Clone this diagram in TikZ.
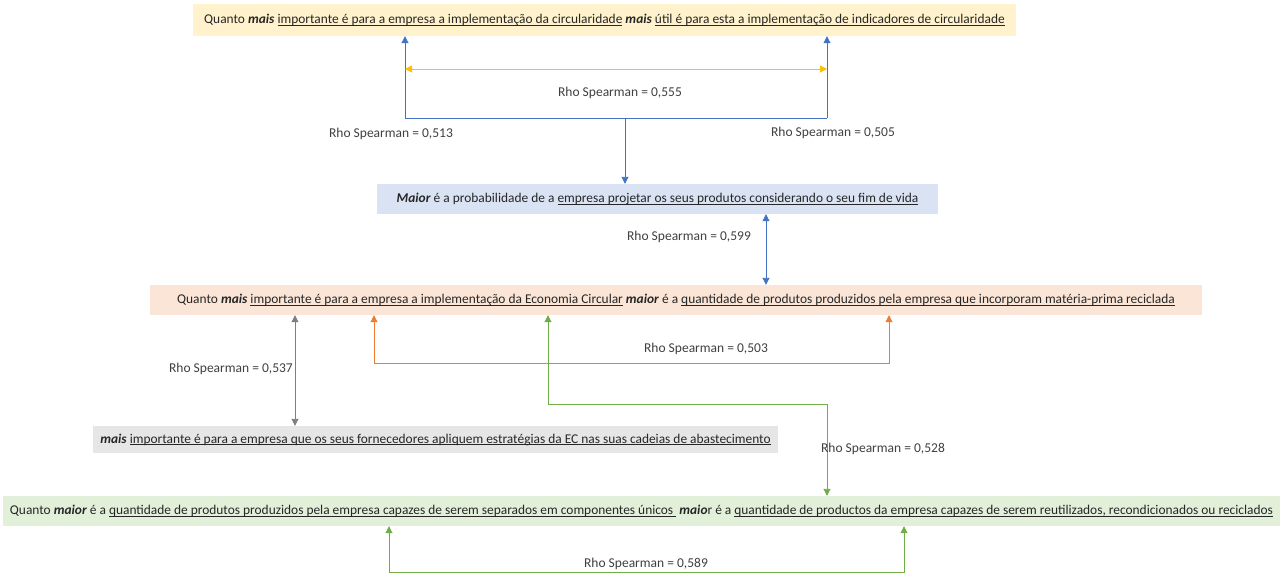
\documentclass[tikz,border=0pt]{standalone}
\usepackage{fontspec}
\setmainfont{Carlito}
\usetikzlibrary{arrows.meta}
\definecolor{txt}{HTML}{262626}
\definecolor{lbltxt}{HTML}{404040}
\definecolor{fyel}{HTML}{FFF2CC}
\definecolor{fblue}{HTML}{DAE3F3}
\definecolor{forg}{HTML}{FBE5D6}
\definecolor{fgray}{HTML}{E7E6E6}
\definecolor{fgrn}{HTML}{E2F0D9}
\definecolor{cblue}{HTML}{4472C4}
\definecolor{cyel}{HTML}{FFC000}
\definecolor{corg}{HTML}{ED7D31}
\definecolor{cgray}{HTML}{7F7F7F}
\definecolor{cgrn}{HTML}{70AD47}
\newcommand{\bi}[1]{\textbf{\textit{#1}}}
\newcommand{\ulx}[1]{\setbox0\hbox{#1}\rlap{\rule[-1.8pt]{\wd0}{0.7pt}}\box0\relax}
\begin{document}
\begin{tikzpicture}[x=1pt,y=-1pt,
  box/.style={inner sep=0pt, font=\fontsize{13.4}{16}\selectfont, text=txt, anchor=center},
  lbl/.style={inner sep=0pt, font=\fontsize{13.5}{16}\selectfont, text=lbltxt},
  tip/.tip={Triangle[width=7pt,length=7pt]},
  conn/.style={line width=0.9pt}]
\useasboundingbox[fill=white] (0,0) rectangle (1286,576);

% boxes
\node[box, fill=fyel, minimum width=823pt, minimum height=32pt] (top) at (604.5,20)
 {Quanto \bi{mais} \ulx{importante é para a empresa a implementação da circularidade} \bi{mais} \ulx{útil é para esta a implementação de indicadores de circularidade}};
\node[box, fill=fblue, minimum width=561pt, minimum height=30pt] (mid) at (657.5,199)
 {\bi{Maior} é a probabilidade de a \ulx{empresa projetar os seus produtos considerando o seu fim de vida}};
\node[box, fill=forg, minimum width=1052pt, minimum height=30pt] (org) at (676,300)
 {Quanto \bi{mais} \ulx{importante é para a empresa a implementação da Economia Circular} \bi{maior} é a \ulx{quantidade de produtos produzidos pela empresa que incorporam matéria-prima reciclada}};
\node[box, fill=fgray, minimum width=685pt, minimum height=27pt] (gry) at (435.5,439.5)
 {\bi{mais} \ulx{importante é para a empresa que os seus fornecedores apliquem estratégias da EC nas suas cadeias de abastecimento}};
\node[box, fill=fgrn, minimum width=1277pt, minimum height=30pt] (grn) at (641.5,511)
 {Quanto \bi{maior} é a \ulx{quantidade de produtos produzidos pela empresa capazes de serem separados em componentes únicos\ } \bi{maio}r é a \ulx{quantidade de productos da empresa capazes de serem reutilizados, recondicionados ou reciclados}};

% coordinates
\coordinate (bl) at (405,118);
\coordinate (br) at (827,118);
\coordinate (bm) at (625,118);
\coordinate (yl) at (405,69);
\coordinate (yr) at (827,69);
\coordinate (a599) at (766,250);
\coordinate (a537) at (295,370);
\coordinate (ol) at (374,363);
\coordinate (or) at (889,363);
\coordinate (g1) at (548,404);
\coordinate (g2) at (827,404);
\coordinate (b1) at (389,572);
\coordinate (b2) at (904,572);

% connectors
\draw[conn, cblue, -tip] (bl) -- (bl |- top.south);
\draw[conn, cblue, -tip] (br) -- (br |- top.south);
\draw[conn, cblue] (bl) -- (br);
\draw[conn, cblue, -tip] (bm) -- (bm |- mid.north);
\draw[conn, cyel, tip-tip] (yl) -- (yr);
\draw[conn, cblue, tip-tip] (a599 |- mid.south) -- (a599 |- org.north);
\draw[conn, cgray, tip-tip] (a537 |- org.south) -- (a537 |- gry.north);
\draw[conn, corg, tip-tip] (ol |- org.south) -- (ol) -- (or) -- (or |- org.south);
\draw[conn, cgrn, tip-tip] (g1 |- org.south) -- (g1) -- (g2) -- (g2 |- grn.north);
\draw[conn, cgrn, tip-tip] (b1 |- grn.south) -- (b1) -- (b2) -- (b2 |- grn.south);

% labels
\node[lbl] (l555) at (620,93) {Rho Spearman = 0,555};
\node[lbl] (l513) at (391,134) {Rho Spearman = 0,513};
\node[lbl] (l505) at (833,133) {Rho Spearman = 0,505};
\node[lbl] (l599) at (689,237) {Rho Spearman = 0,599};
\node[lbl] (l537) at (231,369) {Rho Spearman = 0,537};
\node[lbl] (l503) at (706,349) {Rho Spearman = 0,503};
\node[lbl] (l528) at (883,449) {Rho Spearman = 0,528};
\node[lbl] (l589) at (646,564) {Rho Spearman = 0,589};
\end{tikzpicture}
\end{document}
